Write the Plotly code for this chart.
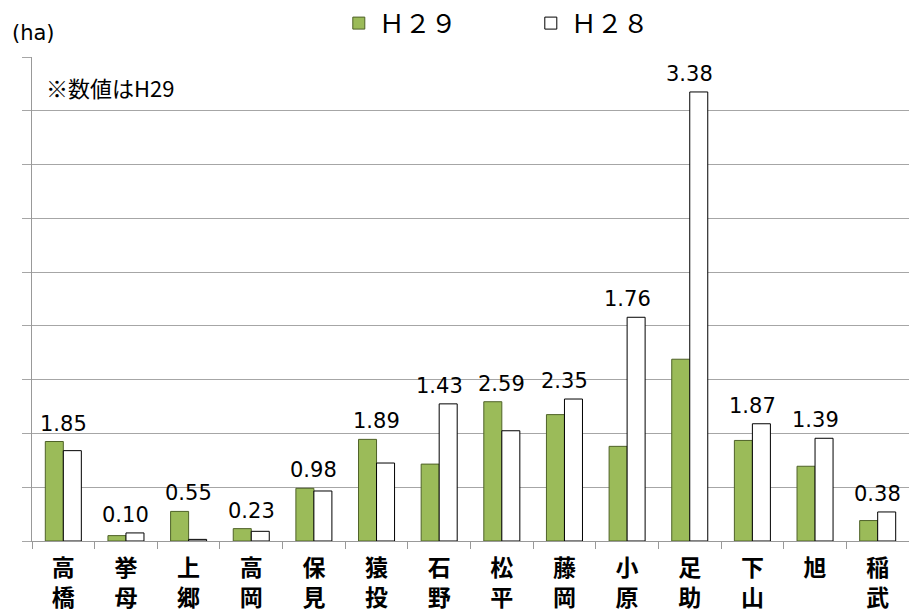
import plotly.graph_objects as go

categories = ["高<br>橋", "挙<br>母", "上<br>郷", "高<br>岡", "保<br>見", "猿<br>投", "石<br>野",
              "松<br>平", "藤<br>岡", "小<br>原", "足<br>助", "下<br>山", "旭", "稲<br>武"]
h29 = [1.85, 0.10, 0.55, 0.23, 0.98, 1.89, 1.43, 2.59, 2.35, 1.76, 3.38, 1.87, 1.39, 0.38]
h28 = [1.68, 0.15, 0.03, 0.18, 0.93, 1.45, 2.55, 2.05, 2.64, 4.16, 8.35, 2.18, 1.91, 0.54]
label_h29 = ["1.85", "0.10", "0.55", "0.23", "0.98", "1.89", "1.43", "2.59", "2.35", "1.76",
             "3.38", "1.87", "1.39", "0.38"]
series_names = ["Ｈ２９", "Ｈ２８"]

OFF = 8  # page body margin
W, H = 917 - OFF, 610 - OFF
L, R, T, B = 32.3 - OFF, 8, 57.3 - OFF, 610 - 541.3
PW, PH = W - L - R, H - T - B


def px_x(x):  # page x -> paper
    return (x - OFF - L) / PW


def px_y(y):  # page y -> paper
    return (H - B - (y - OFF)) / PH


fig = go.Figure()
fig.add_trace(go.Bar(x=categories, y=h29, name=series_names[0],
                     marker=dict(color="#9BBB59", line=dict(color="#4F6228", width=1))))
fig.add_trace(go.Bar(x=categories, y=h28, name=series_names[1],
                     marker=dict(color="#FFFFFF", line=dict(color="#000000", width=1))))

for c, a, b, t in zip(categories, h29, h28, label_h29):
    fig.add_annotation(x=c, y=max(a, b), xref="x", yref="y", text=t, showarrow=False,
                       yanchor="bottom", yshift=4,
                       font=dict(family="DejaVu Sans", size=21, color="#000000"))

fig.add_annotation(x=px_x(10), y=px_y(33), xref="paper", yref="paper", text="(ha)",
                   showarrow=False, xanchor="left", yanchor="middle",
                   font=dict(family="DejaVu Sans", size=21, color="#000000"))
fig.add_annotation(x=px_x(44), y=px_y(87), xref="paper", yref="paper",
                   text="※数値はH29", showarrow=False, xanchor="left", yanchor="middle",
                   font=dict(family="Noto Sans CJK JP", size=22, color="#000000"))

fig.update_layout(
    width=W, height=H,
    margin=dict(l=L, r=R, t=T, b=B, autoexpand=False),
    paper_bgcolor="white", plot_bgcolor="white",
    barmode="group", bargap=0.425, bargroupgap=0,
    showlegend=True,
    legend=dict(orientation="h", x=px_x(339), xanchor="left",
                y=px_y(0), yanchor="top",
                entrywidth=147, entrywidthmode="pixels",
                font=dict(family="Noto Sans CJK JP", size=26, color="#000000"),
                bgcolor="rgba(0,0,0,0)"),
    font=dict(family="Noto Sans CJK JP", color="#000000"),
)
fig.update_xaxes(showline=True, linecolor="#999999", linewidth=1, automargin=False,
                 ticks="outside", ticklen=7, tickcolor="#999999", tickson="boundaries",
                 ticklabelstandoff=6,
                 tickfont=dict(family="Noto Sans CJK JP", size=23, color="#000000", weight=600),
                 showgrid=False, zeroline=False, mirror=False)
fig.update_yaxes(range=[0, 9], dtick=1, tick0=0, showgrid=True, gridcolor="#A6A6A6", gridwidth=1,
                 showline=True, linecolor="#999999", linewidth=1, automargin=False,
                 ticks="outside", ticklen=9, tickcolor="#A6A6A6",
                 showticklabels=False, zeroline=False)

fig.write_html("out.html")
